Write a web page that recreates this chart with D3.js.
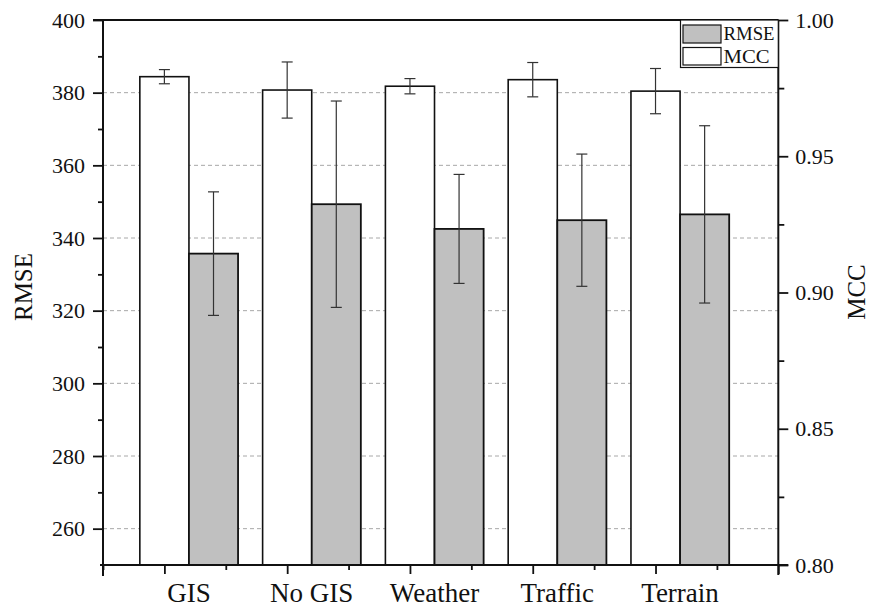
<!DOCTYPE html>
<html>
<head>
<meta charset="utf-8">
<script src="https://cdn.jsdelivr.net/npm/d3@7"></script>
<style>
  html, body { margin: 0; padding: 0; background: #fff; }
  svg { display: block; }
  text { font-family: "Liberation Serif", "Times New Roman", serif; fill: #111; }
</style>
</head>
<body>
<svg id="chart" width="870" height="608"></svg>
<script>
// Feature ablation results: RMSE (left axis) and MCC (right axis)
const categories = ["GIS", "No GIS", "Weather", "Traffic", "Terrain"];
const rmse = [335.7, 349.3, 342.5, 344.9, 346.5];
const rmseErr = [17.0, 28.4, 15.0, 18.2, 24.4];
const mcc = [0.9792, 0.9743, 0.9757, 0.9781, 0.9739];
const mccErr = [0.0026, 0.0103, 0.0028, 0.0063, 0.0083];
const rmseTicks = [260, 280, 300, 320, 340, 360, 380, 400];
const mccTicks = [0.80, 0.85, 0.90, 0.95, 1.00];

const svg = d3.select("#chart");
const plotLeft = 103, plotRight = 778.3, plotTop = 20, plotBottom = 565;

const x = d3.scaleLinear().domain([0.5, 6.0]).range([plotLeft, plotRight]);
const yL = d3.scaleLinear().domain([250, 400]).range([plotBottom, plotTop]);
const yR = d3.scaleLinear().domain([0.80, 1.00]).range([plotBottom, plotTop]);
const barW = 0.4;

// dashed horizontal grid at the RMSE major ticks
svg.append("g").selectAll("line")
  .data(rmseTicks.filter(v => v < 400))
  .join("line")
  .attr("x1", plotLeft).attr("x2", plotRight)
  .attr("y1", d => yL(d)).attr("y2", d => yL(d))
  .attr("stroke", "#a8a8a8").attr("stroke-width", 1)
  .attr("stroke-dasharray", "4,3");

// MCC bars (white) and RMSE bars (grey)
const bars = svg.append("g");
bars.selectAll("rect.mcc")
  .data(mcc)
  .join("rect").attr("class", "mcc")
  .attr("x", (d, i) => x(i + 1 - barW / 2))
  .attr("width", (d, i) => x(i + 1 + barW / 2) - x(i + 1 - barW / 2))
  .attr("y", d => yR(d))
  .attr("height", d => plotBottom - yR(d))
  .attr("fill", "#ffffff").attr("stroke", "#111").attr("stroke-width", 1.6);

bars.selectAll("rect.rmse")
  .data(rmse)
  .join("rect").attr("class", "rmse")
  .attr("x", (d, i) => x(i + 1 + barW / 2))
  .attr("width", (d, i) => x(i + 1 + 1.5 * barW) - x(i + 1 + barW / 2))
  .attr("y", d => yL(d))
  .attr("height", d => plotBottom - yL(d))
  .attr("fill", "#c0c0c0").attr("stroke", "#111").attr("stroke-width", 1.8);

// error bars
function errorBars(vals, errs, scale, cx) {
  const g = svg.append("g").attr("stroke", "#333").attr("stroke-width", 1.2);
  vals.forEach((v, i) => {
    const xc = cx(i), y1 = scale(v + errs[i]), y2 = scale(v - errs[i]);
    g.append("line").attr("x1", xc).attr("x2", xc).attr("y1", y1).attr("y2", y2);
    g.append("line").attr("x1", xc - 5.5).attr("x2", xc + 5.5).attr("y1", y1).attr("y2", y1);
    g.append("line").attr("x1", xc - 5.5).attr("x2", xc + 5.5).attr("y1", y2).attr("y2", y2);
  });
}
errorBars(mcc, mccErr, yR, i => x(i + 1));
errorBars(rmse, rmseErr, yL, i => x(i + 1 + barW));

// left axis (RMSE)
const leftAxis = svg.append("g").attr("transform", `translate(${plotLeft},0)`)
  .call(d3.axisLeft(yL).tickValues(rmseTicks).tickSize(10).tickPadding(8).tickFormat(d3.format("d")));
leftAxis.append("g").attr("class", "minor")
  .call(d3.axisLeft(yL).tickValues([270, 290, 310, 330, 350, 370, 390]).tickSize(5).tickFormat(""));
leftAxis.selectAll("text").style("font-size", "22px").attr("fill", "#111");

// right axis (MCC)
const rightAxis = svg.append("g").attr("transform", `translate(${plotRight},0)`)
  .call(d3.axisRight(yR).tickValues(mccTicks).tickSize(10).tickPadding(7).tickFormat(d3.format(".2f")));
rightAxis.append("g").attr("class", "minor")
  .call(d3.axisRight(yR).tickValues([0.825, 0.875, 0.925, 0.975]).tickSize(6).tickFormat(""));
rightAxis.selectAll("text").style("font-size", "22px").attr("fill", "#111");

// bottom axis with major/minor ticks, labels at the group centres
const bottomAxis = svg.append("g").attr("transform", `translate(0,${plotBottom})`)
  .call(d3.axisBottom(x).tickValues([1, 2, 3, 4, 5, 6]).tickSize(9).tickFormat(""));
bottomAxis.append("g").attr("class", "minor")
  .call(d3.axisBottom(x).tickValues([0.5, 1.5, 2.5, 3.5, 4.5, 5.5]).tickSize(5).tickFormat(""));
svg.append("g").selectAll("text")
  .data(categories)
  .join("text")
  .attr("x", (d, i) => x(i + 1 + barW / 2))
  .attr("y", 602)
  .attr("text-anchor", "middle")
  .style("font-size", "27px")
  .text(d => d);

// top frame line
svg.append("line").attr("x1", plotLeft - 10).attr("x2", plotRight).attr("y1", plotTop).attr("y2", plotTop)
  .attr("stroke", "#111").attr("stroke-width", 2);

svg.selectAll(".minor .domain").remove();
svg.selectAll(".domain").attr("stroke", "#111").attr("stroke-width", 2);
svg.selectAll(".tick line").attr("stroke", "#111").attr("stroke-width", 1.8);
leftAxis.select(".domain").attr("d", `M0,${plotTop}V${plotBottom + 11}`);
rightAxis.select(".domain").attr("d", `M0,${plotTop}V${plotBottom + 10}`);
bottomAxis.select(".domain").attr("d", `M${plotLeft - 3},0H${plotRight + 10}`);

// axis titles
svg.append("text")
  .attr("transform", `translate(32,287) rotate(-90)`)
  .attr("text-anchor", "middle")
  .style("font-size", "25px")
  .text("RMSE");
svg.append("text")
  .attr("transform", `translate(865,292) rotate(-90)`)
  .attr("text-anchor", "middle")
  .style("font-size", "25px")
  .text("MCC");

// legend
const lg = svg.append("g");
lg.append("rect").attr("x", 680.5).attr("y", plotTop).attr("width", plotRight - 680.5).attr("height", 47.5)
  .attr("fill", "#fff").attr("stroke", "#111").attr("stroke-width", 1.2);
lg.append("rect").attr("x", 683).attr("y", 25).attr("width", 38).attr("height", 18)
  .attr("fill", "#c0c0c0").attr("stroke", "#111").attr("stroke-width", 1.2);
lg.append("rect").attr("x", 683).attr("y", 47.5).attr("width", 38).attr("height", 17.5)
  .attr("fill", "#fff").attr("stroke", "#111").attr("stroke-width", 1.2);
lg.append("text").attr("x", 723.5).attr("y", 40).style("font-size", "18px")
  .attr("textLength", 51).attr("lengthAdjust", "spacingAndGlyphs").text("RMSE");
lg.append("text").attr("x", 723.5).attr("y", 63).style("font-size", "18px")
  .attr("textLength", 46).attr("lengthAdjust", "spacingAndGlyphs").text("MCC");
</script>
</body>
</html>
